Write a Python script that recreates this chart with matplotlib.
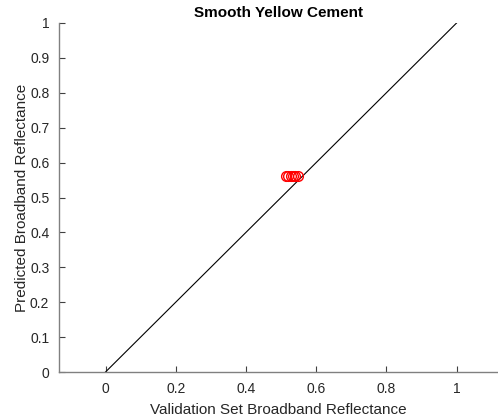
import numpy as np
import matplotlib.pyplot as plt

plt.rcParams['font.family'] = ['Liberation Sans', 'DejaVu Sans']

# validation vs predicted values
x_valid = [0.515, 0.521, 0.528, 0.534, 0.540, 0.547]
y_pred = [0.563, 0.563, 0.563, 0.563, 0.563, 0.563]
ref_line = [0, 1]

fig = plt.figure(figsize=(4.98, 4.18), dpi=100)
ax = fig.add_axes([59 / 498, 46 / 418, 439 / 498, 349 / 418])

ax.plot(ref_line, ref_line, color='black', linewidth=0.8)
ax.plot(x_valid, y_pred, 'o', markerfacecolor='none', markeredgecolor='red',
        markersize=7, markeredgewidth=1.0)

ax.set_xlim(-0.1325, 1.118)
ax.set_ylim(0, 1)
ax.set_xticks(np.arange(0, 1.01, 0.2))
ax.set_xticklabels(['0', '0.2', '0.4', '0.6', '0.8', '1'])
ax.set_yticks(np.arange(0, 1.01, 0.1))
ax.set_yticklabels(['0', '0.1', '0.2', '0.3', '0.4', '0.5', '0.6', '0.7', '0.8', '0.9', '1'])

for side in ['top', 'right']:
    ax.spines[side].set_visible(False)
for side in ['left', 'bottom']:
    ax.spines[side].set_color('#808080')
    ax.spines[side].set_linewidth(1.0)
ax.tick_params(direction='in', length=4, width=0.8, color='#404040',
               labelsize=10, labelcolor='#262626', pad=7)

ax.set_xlabel('Validation Set Broadband Reflectance', fontsize=11, color='#262626', labelpad=5)
ax.set_ylabel('Predicted Broadband Reflectance', fontsize=11, color='#262626', labelpad=1)
ax.set_title('Smooth Yellow Cement', fontsize=11, fontweight='bold', pad=4)

fig.savefig('out.png', dpi=100)
